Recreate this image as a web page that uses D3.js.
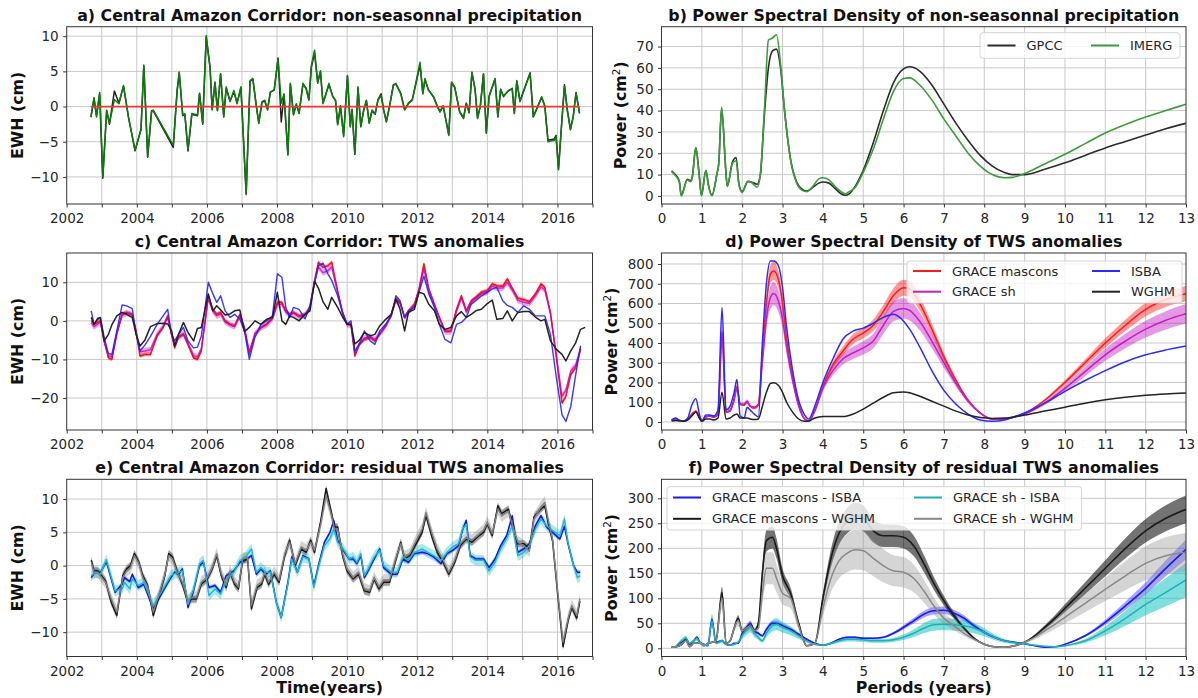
<!DOCTYPE html>
<html>
<head>
<meta charset="utf-8">
<script src="https://d3js.org/d3.v7.min.js"></script>
<style>
  body { margin: 0; background: #fff; }
  svg { font-family: "DejaVu Sans", sans-serif; }
  .tick text { font-family: "DejaVu Sans", sans-serif; font-size: 13.5px; fill: #262626; }
  .tick line { stroke: #333; }
  .title { font-size: 15.8px; font-weight: bold; fill: #111; }
  .axlabel { font-size: 15.8px; font-weight: bold; fill: #111; }
  .legend text { font-size: 13px; fill: #262626; }
</style>
</head>
<body>
<script>
// ---------- a) non-seasonal precipitation (cm) ----------
const precipT = [
  2002.69, 2002.78, 2002.85, 2002.94, 2003.03, 2003.14, 2003.22, 2003.36, 2003.49, 2003.62,
  2003.76, 2003.95, 2004.12, 2004.20, 2004.31, 2004.42, 2004.47, 2005.04, 2005.15, 2005.21,
  2005.31, 2005.37, 2005.46, 2005.57, 2005.73, 2005.79, 2005.88, 2005.98, 2006.09, 2006.15,
  2006.23, 2006.30, 2006.39, 2006.48, 2006.55, 2006.66, 2006.77, 2006.86, 2006.97, 2007.12,
  2007.23, 2007.31, 2007.41, 2007.48, 2007.57, 2007.65, 2007.73, 2007.81, 2007.92, 2008.03,
  2008.12, 2008.20, 2008.31, 2008.38, 2008.47, 2008.55, 2008.63, 2008.74, 2008.83, 2008.91,
  2008.98, 2009.07, 2009.16, 2009.24, 2009.31, 2009.40, 2009.48, 2009.59, 2009.67, 2009.73,
  2009.81, 2009.90, 2010.01, 2010.09, 2010.14, 2010.22, 2010.31, 2010.39, 2010.47, 2010.55,
  2010.63, 2010.71, 2010.80, 2010.88, 2010.97, 2011.04, 2011.12, 2011.21, 2011.32, 2011.39,
  2011.53, 2011.64, 2011.75, 2011.86, 2012.08, 2012.16, 2012.22, 2012.32, 2012.47, 2012.57,
  2012.65, 2012.74, 2012.90, 2012.98, 2013.07, 2013.21, 2013.32, 2013.40, 2013.48, 2013.56,
  2013.65, 2013.72, 2013.80, 2013.89, 2013.97, 2014.05, 2014.22, 2014.30, 2014.38, 2014.46,
  2014.60, 2014.71, 2014.77, 2014.84, 2014.93, 2015.22, 2015.31, 2015.40, 2015.55, 2015.64,
  2015.73, 2015.91, 2015.96, 2016.03, 2016.12, 2016.20, 2016.28, 2016.37, 2016.45, 2016.53,
  2016.63
];
const precipImerg = [
  -1.5, 1.3, -1.5, 2.0, -10.0, -0.5, -2.4, 1.0, 0.4, 3.0,
  -1.5, -6.2, -3.3, 5.9, -7.1, -0.8, -0.5, -5.5, 2.3, 4.9,
  -1.2, -1.0, -6.2, -1.0, -1.2, 1.8, -2.4, 10.1, 5.6, -0.5,
  3.5, -0.5, 4.7, -1.5, 2.8, 0.7, 2.3, 0.4, 2.8, -12.5,
  3.7, 4.0, 0.0, -2.4, 0.7, 0.9, -0.5, 2.1, 2.3, 6.8,
  0.5, 1.8, -6.9, 3.3, -1.2, 0.4, -1.0, 3.3, 2.5, 0.9,
  5.8, 8.0, 3.3, 5.1, 0.4, 1.8, 3.3, 1.4, 0.9, -2.6,
  0.0, -4.3, 4.4, -2.9, -0.5, -6.7, 2.8, -2.9, -0.5, 0.9,
  -2.4, -0.5, -1.0, 0.9, 1.6, -0.5, -2.2, 0.0, 3.0, 3.3,
  1.8, -0.5, 0.4, 0.9, 6.3, 1.8, 4.0, 2.3, 1.4, 0.0,
  -0.8, 0.05, -4.1, 3.5, 2.8, -0.8, -1.7, 0.4, -0.8, 4.9,
  2.5, -1.7, 0.0, 4.7, -3.8, 1.4, 4.0, -1.5, 2.5, 1.4,
  2.3, 2.5, -1.0, 3.7, 0.7, 4.7, -1.5, -0.5, 1.4, 0.0,
  -5.0, -4.8, -4.3, -9.0, -2.5, 2.9, -0.5, -3.3, -1.5, 1.9,
  -1.0
];
const precipGpcc = [
  -1.5, 1.1, -1.3, 1.8, -10.2, -0.6, -2.5, 2.2, 0.5, 2.9,
  -1.4, -6.3, -3.2, 5.8, -7.2, -0.6, -0.6, -5.8, 2.2, 4.8,
  -1.3, -1.1, -6.3, -1.1, -1.3, 1.9, -2.5, 9.9, 5.5, -0.4,
  3.4, -0.6, 4.6, -1.4, 2.6, 0.8, 2.1, 0.5, 2.7, -12.4,
  3.6, 3.9, 0.1, -2.3, 0.6, 0.8, -0.4, 2.0, 2.4, 6.9,
  -2.2, 1.7, -6.8, 3.2, -1.1, 0.3, -0.9, 3.2, 2.6, 1.0,
  5.6, 7.6, 3.5, 4.9, 0.5, 1.9, 3.1, 1.5, 0.8, -2.5,
  0.1, -4.1, 4.3, -2.8, -0.4, -6.8, 2.6, -2.8, -0.6, 0.8,
  -2.3, -0.6, -1.1, 1.0, 1.8, -0.4, -2.1, 0.1, 3.1, 3.2,
  1.9, -0.4, 0.5, 1.0, 5.9, 1.9, 3.8, 2.4, 1.3, 0.1,
  -0.7, 0.1, -4.0, 3.4, 2.7, -0.7, -1.6, 0.5, -0.9, 4.8,
  2.4, -1.6, 0.1, 4.6, -3.7, 1.5, 3.9, -1.4, 2.4, 1.5,
  2.2, 2.6, -0.9, 3.6, 0.8, 4.8, -1.4, -0.4, 1.3, 0.1,
  -4.8, -4.6, -4.1, -8.8, -2.4, 3.1, -0.4, -3.2, -1.4, 2.0,
  -0.9
];

// ---------- c) TWS anomalies (cm) ----------
const twsT = [
  2002.70, 2002.78, 2002.89, 2002.96, 2003.07, 2003.19, 2003.29, 2003.43, 2003.58, 2003.71,
  2003.87, 2003.98, 2004.09, 2004.23, 2004.39, 2004.58, 2004.75, 2004.88, 2004.99, 2005.08,
  2005.19, 2005.33, 2005.46, 2005.62, 2005.73, 2005.84, 2006.04, 2006.17, 2006.28, 2006.39,
  2006.52, 2006.66, 2006.79, 2006.94, 2007.07, 2007.21, 2007.37, 2007.54, 2007.70, 2007.87,
  2008.01, 2008.14, 2008.25, 2008.36, 2008.47, 2008.63, 2008.80, 2008.94, 2009.07, 2009.18,
  2009.31, 2009.45, 2009.56, 2009.73, 2009.87, 2010.00, 2010.11, 2010.22, 2010.35, 2010.49,
  2010.66, 2010.79, 2010.93, 2011.10, 2011.26, 2011.39, 2011.51, 2011.64, 2011.75, 2011.92,
  2012.05, 2012.19, 2012.33, 2012.49, 2012.63, 2012.79, 2012.96, 2013.12, 2013.26, 2013.40,
  2013.54, 2013.67, 2013.83, 2014.00, 2014.14, 2014.27, 2014.44, 2014.57, 2014.71, 2014.87,
  2015.04, 2015.20, 2015.37, 2015.53, 2015.64, 2015.80, 2015.97, 2016.13, 2016.24, 2016.38,
  2016.52, 2016.66, 2016.79
];
const twsMascons = [
  0.0, -0.9, -0.4, 0.0, -5.2, -9.6, -10.0, -3.5, 1.7, 2.2,
  1.7, -2.6, -9.1, -8.7, -8.7, -3.9, -1.7, 1.3, -3.5, -7.0,
  -4.3, -3.5, -6.1, -9.6, -10.0, -7.8, 6.5, 3.0, 1.7, 2.2,
  0.0, -0.9, -1.3, 1.7, -1.7, -8.7, -3.5, -1.7, -0.9, 0.9,
  4.8, 4.8, 2.6, 1.7, 2.2, 1.3, 1.7, 3.5, 10.4, 15.2,
  13.9, 14.3, 15.2, 7.8, 2.2, -0.9, -0.9, -9.1, -6.1, -4.8,
  -4.3, -5.2, -3.5, -1.3, 1.7, 5.7, 4.8, 0.9, 2.6, 4.3,
  8.3, 14.8, 8.3, 4.3, 0.9, -2.6, -2.6, 3.0, 6.5, 2.6,
  5.2, 6.1, 7.4, 7.8, 9.6, 9.1, 9.0, 10.9, 8.5, 5.9,
  5.5, 5.0, 7.0, 9.6, 8.7, 2.2, -9.6, -21.3, -19.6, -13.9,
  -12.2, -7.4, null
];
const twsSh = [
  -0.5, -1.5, -0.8, -0.3, -5.5, -9.0, -9.3, -3.0, 1.5, 2.0,
  1.5, -2.8, -8.0, -7.8, -7.5, -3.5, -1.5, 1.0, -3.3, -6.5,
  -4.0, -3.3, -5.8, -9.0, -9.3, -7.3, 5.8, 2.5, 1.3, 1.8,
  -0.3, -1.0, -1.5, 1.3, -2.0, -8.0, -3.3, -1.8, -1.0, 0.5,
  4.3, 4.3, 2.3, 1.5, 2.0, 1.0, 1.5, 3.3, 9.8, 14.0,
  12.5, 13.0, 14.0, 7.3, 2.0, -1.0, -1.0, -8.5, -5.8, -4.5,
  -4.0, -4.8, -3.3, -1.3, 1.5, 5.3, 4.5, 0.8, 2.3, 4.0,
  7.8, 13.5, 7.8, 4.0, 0.8, -2.8, -2.8, 2.5, 6.0, 2.3,
  4.8, 5.8, 7.0, 7.5, 9.0, 8.5, 8.5, 10.0, 8.0, 5.3,
  4.8, 4.5, 6.5, 8.8, 8.0, 1.8, -9.0, -19.5, -18.0, -13.0,
  -11.5, -7.0, null
];
const twsIsba = [
  2.6, -0.9, 0.4, 0.9, -4.3, -8.5, -8.7, -2.6, 4.1, 3.9,
  3.2, -3.5, -7.8, -6.3, -4.0, -0.9, 1.3, 3.0, -3.5, -5.2,
  -3.5, -1.7, -5.2, -7.0, -6.8, -4.0, 10.0, 7.0, 4.8, 6.5,
  2.6, 0.9, 1.7, 0.4, -2.6, -10.0, -4.3, -0.9, 0.0, 1.3,
  12.2, 11.3, 3.5, 0.9, 3.5, 3.0, 0.5, 4.0, 10.0, 14.3,
  15.0, 12.2, 10.5, 6.5, 2.0, -0.9, 0.0, -7.8, -6.1, -2.6,
  -5.2, -6.1, -2.6, -0.9, 1.3, 6.5, 5.2, 0.9, 2.6, 3.5,
  7.4, 11.6, 7.0, 3.5, -0.9, -4.8, -5.7, -0.9, -0.4, 0.9,
  4.3, 5.2, 6.5, 7.4, 8.3, 8.7, 5.2, 4.0, 3.5, 2.2,
  3.9, 3.0, 1.3, 1.3, 1.3, -3.5, -14.8, -24.3, -26.1, -22.2,
  -14.0, -6.5, null
];
const twsWghm = [
  0.9, -0.9, 0.7, 0.8, -5.2, -3.5, -1.0, 1.3, 2.2, 1.7,
  0.9, -3.5, -6.5, -5.0, -1.5, -0.7, -0.6, -0.8, -2.5, -6.5,
  -3.5, -0.4, -3.0, -5.2, -2.0, -1.7, 7.0, 2.6, 3.9, 2.9,
  1.5, 1.8, 2.6, 2.8, -2.8, -1.7, 0.0, -0.9, 0.4, 0.9,
  7.4, 0.0, -0.9, 1.3, 0.9, 0.0, 1.7, 2.6, 10.3, 8.5,
  5.0, 3.0, 6.1, 3.5, 1.0, -0.9, -0.9, -6.0, -5.0, -3.0,
  -3.9, -3.5, -1.3, 0.4, 1.7, 5.7, 3.0, -2.6, 2.2, 3.0,
  7.4, 7.0, 4.3, 2.6, -0.9, -2.2, -1.7, 1.3, 2.4, 0.9,
  1.7, 2.6, 3.0, 4.5, 5.4, 0.4, 0.6, 2.6, 0.0, 2.2,
  2.4, 2.4, 1.0, 0.0, 0.4, -5.2, -7.4, -8.7, -10.4, -7.8,
  -5.7, -2.2, -1.7
];
const twsMasconsErr = 0.5, twsShErr = 0.8;

// ---------- e) residual TWS anomalies (cm) ----------
const resIsbaT = [
  2002.70, 2002.83, 2002.96, 2003.13, 2003.38, 2003.58, 2003.65, 2003.80, 2003.87, 2004.04,
  2004.20, 2004.47, 2004.75, 2004.97, 2005.08, 2005.19, 2005.30, 2005.46, 2005.62, 2005.79,
  2005.90, 2006.06, 2006.23, 2006.39, 2006.55, 2006.77, 2006.94, 2007.10, 2007.27, 2007.41,
  2007.54, 2007.68, 2007.81, 2007.98, 2008.12, 2008.31, 2008.42, 2008.58, 2008.74, 2008.91,
  2009.05, 2009.18, 2009.35, 2009.51, 2009.62, 2009.73, 2009.89, 2010.06, 2010.17, 2010.28,
  2010.39, 2010.49, 2010.60, 2010.77, 2010.93, 2011.04, 2011.26, 2011.43, 2011.59, 2011.75,
  2011.92, 2012.14, 2012.30, 2012.47, 2012.68, 2012.85, 2013.01, 2013.18, 2013.29, 2013.40,
  2013.51, 2013.67, 2013.89, 2014.05, 2014.22, 2014.38, 2014.55, 2014.71, 2014.87, 2015.04,
  2015.20, 2015.37, 2015.53, 2015.69, 2015.86, 2016.07, 2016.20, 2016.30, 2016.46, 2016.57,
  2016.65
];
const resMasconsIsba = [
  -1.8, -0.8, -1.1, 0.6, -4.0, -2.8, -1.8, -2.4, -1.3, -3.3,
  -2.8, -6.5, -3.8, -1.8, -1.0, -1.3, -0.5, -6.3, -3.8, 0.0,
  0.5, -3.3, -3.0, -4.0, -1.5, -0.8, 0.5, 0.8, 1.5, -1.3,
  -0.5, -1.3, -0.8, -5.5, -7.8, -2.5, 1.3, -1.0, 1.5, 1.0,
  -3.0, 0.0, 3.5, 5.0, 6.8, 3.8, 2.3, 1.0, 1.0, 0.3,
  1.5, -1.8, -0.8, 1.0, 2.5, -0.3, -1.3, -1.3, 1.0, 0.5,
  1.8, 2.0, 1.8, 1.3, 0.3, 1.8, 2.3, 3.0, 5.3, 6.8,
  1.5, 1.0, 1.0, -0.3, 1.0, 3.0, 4.5, 7.5, 2.0, 2.5,
  3.3, 6.0, 7.5, 5.8, 5.0, 4.0, 5.9, 3.3, 0.0, -1.0,
  -1.0
];
const resShIsba = [
  -1.5, -1.0, -1.3, 0.9, -3.8, -3.5, -2.5, -3.5, -2.0, -3.0,
  -2.5, -6.0, -3.5, -1.5, -1.2, -1.0, -0.8, -5.8, -3.5, 0.3,
  0.8, -4.5, -3.5, -4.3, -2.0, -1.0, 0.8, 1.3, 2.5, -1.0,
  -0.3, -1.0, -1.0, -5.5, -7.8, -2.8, 1.0, -1.0, 1.3, 1.0,
  -3.3, -0.3, 3.0, 4.0, 5.5, 3.5, 2.5, 1.0, 1.3, 0.5,
  1.8, -1.5, -0.5, 1.3, 2.3, 0.0, -1.0, -1.0, 1.3, 0.8,
  2.0, 2.5, 2.0, 1.5, 0.8, 2.0, 2.8, 3.3, 5.5, 6.2,
  1.3, 0.8, 0.8, -0.8, 0.5, 2.5, 4.0, 6.0, 1.5, 2.0,
  3.0, 5.5, 7.0, 6.0, 5.3, 4.5, 7.0, 3.5, 0.0, -1.8,
  -1.5
];
const resWghmT = [
  2002.70, 2002.78, 2002.89, 2002.96, 2003.11, 2003.27, 2003.43, 2003.60, 2003.71, 2003.82,
  2003.93, 2004.06, 2004.17, 2004.31, 2004.47, 2004.64, 2004.80, 2004.91, 2005.02, 2005.15,
  2005.30, 2005.46, 2005.57, 2005.70, 2005.84, 2006.01, 2006.15, 2006.28, 2006.41, 2006.55,
  2006.66, 2006.79, 2006.90, 2007.02, 2007.16, 2007.27, 2007.43, 2007.56, 2007.65, 2007.76,
  2007.92, 2008.06, 2008.22, 2008.36, 2008.52, 2008.69, 2008.83, 2008.96, 2009.07, 2009.24,
  2009.40, 2009.53, 2009.64, 2009.73, 2009.87, 2010.00, 2010.17, 2010.33, 2010.49, 2010.64,
  2010.77, 2010.91, 2011.04, 2011.21, 2011.37, 2011.53, 2011.64, 2011.79, 2011.97, 2012.14,
  2012.25, 2012.41, 2012.57, 2012.74, 2012.90, 2013.07, 2013.23, 2013.40, 2013.56, 2013.72,
  2013.89, 2014.00, 2014.14, 2014.30, 2014.41, 2014.60, 2014.71, 2014.87, 2015.04, 2015.20,
  2015.33, 2015.53, 2015.64, 2015.75, 2015.86, 2016.00, 2016.16, 2016.31, 2016.41, 2016.55,
  2016.64
];
const resMasconsWghm = [
  0.8, -0.8, -0.8, -1.3, -2.3, -5.5, -7.5, -1.5, -0.5, 0.0,
  1.8, 0.5, -1.5, -3.0, -7.5, -4.5, -1.5, 1.8, 1.3, -0.8,
  -2.8, -5.5, -5.0, -5.0, -2.8, -2.0, -0.5, 1.5, -1.5, -3.3,
  -1.0, -2.8, -3.5, 0.8, 1.0, -6.5, -3.3, -2.8, -1.3, -2.8,
  -1.3, -2.5, 1.5, 3.8, 0.0, 2.5, 2.0, 3.8, 2.0, 6.5,
  11.6, 8.5, 5.8, 5.8, 1.5, -0.8, -2.0, -1.3, -3.8, -4.0,
  -2.0, -3.5, -2.5, -2.5, 0.5, 3.5, 1.0, 1.5, 3.3, 5.0,
  7.5, 4.5, 2.0, 0.5, -1.3, 0.5, 3.0, 4.0, 3.5, 4.3,
  5.0, 6.3, 4.5, 9.0, 7.8, 8.5, 6.0, 3.3, 3.3, 2.5,
  7.3, 8.5, 9.0, 6.0, 3.8, -4.0, -12.2, -8.1, -6.3, -7.9,
  -5.3
];
const resShWghm = [
  0.5, -1.0, -1.0, -1.5, -2.5, -5.0, -7.0, -1.8, -0.8, -0.3,
  1.5, 0.3, -1.8, -3.2, -7.0, -4.2, -1.3, 1.5, 1.0, -1.0,
  -2.5, -5.2, -4.8, -4.8, -2.5, -1.8, -0.3, 1.8, -1.2, -3.0,
  -0.8, -2.5, -3.2, 1.0, 1.2, -6.0, -3.0, -2.5, -1.0, -2.5,
  -1.0, -2.2, 1.8, 3.5, 0.3, 2.8, 2.3, 3.5, 2.3, 6.0,
  10.5, 8.0, 5.5, 5.5, 1.8, -0.5, -1.8, -1.0, -3.5, -3.8,
  -1.8, -3.2, -2.2, -2.2, 0.8, 3.3, 1.3, 1.8, 3.8, 5.5,
  8.0, 5.0, 2.5, 0.8, -1.0, 0.8, 3.3, 4.2, 3.8, 4.5,
  5.3, 6.5, 4.8, 8.5, 7.5, 8.2, 6.2, 3.5, 3.0, 2.2,
  7.0, 8.8, 9.5, 6.5, 4.0, -3.5, -11.5, -7.8, -6.0, -7.5,
  -5.0
];
const resErr = { masconsIsba: 0.3, shIsba: 0.8, masconsWghm: 0.5, shWghm: 0.9 };

// ---------- b) PSD of precipitation (cm^2) ----------
const psdPrecipP = [
  0.25, 0.35, 0.44, 0.49, 0.64, 0.72, 0.76, 0.85, 0.93, 0.99,
  1.1, 1.16, 1.25, 1.37, 1.42, 1.49, 1.59, 1.63, 1.76, 1.85,
  1.92, 2.0, 2.14, 2.23, 2.37, 2.45, 2.55, 2.65, 2.75, 2.85,
  2.95, 3.05, 3.2, 3.35, 3.5, 3.6, 3.75, 3.9, 4.0, 4.15,
  4.3, 4.45, 4.55, 4.65, 4.8, 5.0, 5.25, 5.5, 5.75, 6.0,
  6.15, 6.4, 6.7, 7.0, 7.3, 7.6, 7.9, 8.2, 8.5, 8.7,
  9.0, 9.5, 10.0, 10.5, 11.0, 11.5, 12.0, 12.5, 13.0
];
const psdGpcc = [
  11.8, 9.8, 7.0, 0.3, 7.8, 7.2, 8.5, 22.5, 10.8, 0.3,
  12.0, 5.5, 0.3, 10, 15.5, 41.0, 13, 4.6, 16, 18,
  5.5, 2.0, 6.8, 6.5, 5.5, 10, 38, 60, 68, 68.8,
  60, 40, 17, 6.5, 3, 2.3, 4.0, 6.0, 6.5, 6.0,
  3.5, 1.0, 0.3, 1.0, 4.5, 12, 25, 40, 53, 59.5,
  60.5, 58.5, 52, 43, 34, 26, 19, 14, 11, 10,
  10, 12.5, 15.5, 19, 22.5, 25.5, 28.5, 31.5, 34
];
const psdImerg = [
  11.4, 9.4, 6.7, 0, 7.5, 6.7, 8.3, 22.7, 10.6, 0,
  11.9, 5.2, 0, 9.8, 15.3, 41.6, 13, 4.4, 15.3, 16.5,
  5.2, 1.6, 6.7, 6.3, 4.1, 10, 40, 73, 74, 75.5,
  62, 40, 17, 6, 2.5, 2.0, 4.5, 8.0, 8.5, 7.5,
  4.5, 2.0, 1.0, 2.0, 4.0, 11, 22, 36, 49, 55,
  55.3, 52, 45, 36, 28, 20, 14, 10, 8.5, 8.7,
  10.5, 15, 19.5, 24.5, 29.5, 33.5, 37, 40, 43
];

// ---------- d) PSD of TWS anomalies (cm^2) ----------
const psdTwsP = [
  0.25, 0.35, 0.45, 0.55, 0.65, 0.75, 0.85, 0.95, 1.0, 1.1,
  1.2, 1.3, 1.4, 1.5, 1.6, 1.7, 1.8, 1.87, 1.95, 2.05,
  2.12, 2.2, 2.3, 2.4, 2.5, 2.6, 2.7, 2.78, 2.9, 3.0,
  3.1, 3.25, 3.4, 3.55, 3.65, 3.8, 4.0, 4.25, 4.5, 4.75,
  5.0, 5.25, 5.5, 5.75, 6.0, 6.15, 6.4, 6.7, 7.0, 7.3,
  7.6, 7.9, 8.2, 8.5, 8.8, 9.0, 9.5, 10.0, 10.5, 11.0,
  11.5, 12.0, 12.5, 13.0
];
const psdTwsMascons = [
  10, 15, 8, 5, 15, 40, 55, 20, 5, 25,
  30, 25, 40, 430, 50, 60, 120, 180, 90, 85,
  100, 80, 75, 90, 350, 600, 750, 765, 720, 600,
  420, 230, 90, 15, 5, 60, 180, 290, 360, 420,
  450, 490, 560, 640, 680, 675, 600, 470, 330, 210,
  110, 45, 15, 15, 30, 45, 110, 200, 300, 400,
  490, 570, 620, 650
];
const psdTwsSh = [
  10, 15, 8, 5, 12, 35, 50, 20, 5, 25,
  30, 25, 40, 460, 50, 55, 110, 170, 90, 90,
  105, 80, 70, 85, 300, 520, 630, 650, 610, 520,
  380, 210, 80, 15, 5, 55, 170, 260, 320, 350,
  375, 410, 490, 560, 575, 565, 510, 410, 300, 195,
  105, 45, 15, 15, 28, 40, 95, 170, 255, 340,
  410, 470, 515, 548
];
const psdTwsIsba = [
  10, 20, 8, 5, 20, 85, 118, 30, 5, 35,
  35, 30, 60, 580, 60, 80, 150, 215, 30, 20,
  75, 60, 40, 25, 400, 700, 815, 815, 790, 680,
  480, 260, 110, 35, 15, 80, 200, 320, 420, 460,
  475, 500, 530, 545, 510, 470, 380, 260, 160, 90,
  40, 10, 3, 10, 30, 45, 95, 155, 210, 260,
  305, 340, 365, 385
];
const psdTwsWghm = [
  5, 8, 5, 3, 10, 30, 50, 15, 3, 15,
  15, 10, 20, 150, 15, 20, 35, 40, 20, 20,
  20, 15, 12, 15, 80, 150, 195, 198, 185, 150,
  100, 50, 15, 3, 5, 20, 28, 28, 27, 40,
  65, 95, 125, 148, 152, 148, 130, 105, 80, 55,
  35, 22, 18, 20, 28, 35, 55, 75, 95, 112,
  125, 135, 142, 147
];
const psdTwsRelErr = { mascons: 0.06, sh: 0.09 };

// ---------- f) PSD of residual TWS anomalies (cm^2) ----------
const psdResP = [
  0.25, 0.35, 0.45, 0.55, 0.6, 0.7, 0.8, 0.88, 0.95, 1.05,
  1.15, 1.25, 1.35, 1.5, 1.6, 1.7, 1.8, 1.9, 2.0, 2.1,
  2.2, 2.3, 2.4, 2.5, 2.6, 2.75, 2.85, 3.0, 3.2, 3.4,
  3.6, 3.8, 4.0, 4.2, 4.4, 4.6, 4.8, 5.0, 5.25, 5.5,
  5.75, 6.0, 6.25, 6.5, 6.75, 7.0, 7.25, 7.5, 7.75, 8.0,
  8.25, 8.5, 8.75, 9.0, 9.25, 9.5, 9.75, 10.0, 10.5, 11.0,
  11.5, 12.0, 12.5, 13.0
];
const psdResMasconsIsba = [
  2, 3, 10, 15, 20, 8, 15, 22, 12, 8,
  5, 58, 12, 15, 8, 6, 10, 10, 30, 40,
  50, 35, 30, 25, 38, 50, 50, 45, 38, 28,
  18, 10, 6, 10, 18, 22, 22, 20, 20, 22,
  30, 42, 55, 68, 75, 76, 70, 60, 45, 32,
  22, 15, 12, 9, 5, 2, 3, 8, 25, 52,
  85, 120, 160, 198
];
const psdResMasconsWghm = [
  2, 3, 5, 12, 18, 3, 10, 10, 12, 5,
  10, 12, 15, 112, 10, 15, 40, 60, 35, 40,
  45, 35, 50, 150, 215, 222, 200, 145, 110, 50,
  5, 10, 100, 180, 230, 255, 265, 260, 235, 225,
  225, 222, 205, 170, 130, 95, 65, 40, 20, 8,
  3, 2, 5, 12, 25, 42, 60, 80, 120, 160,
  200, 235, 260, 278
];
const psdResShIsba = [
  2, 4, 12, 18, 20, 10, 15, 20, 10, 8,
  5, 55, 10, 15, 8, 6, 8, 12, 25, 35,
  42, 30, 22, 15, 30, 45, 48, 42, 35, 25,
  15, 8, 6, 10, 15, 18, 18, 17, 15, 15,
  17, 22, 30, 40, 47, 48, 47, 45, 40, 32,
  22, 15, 11, 9, 6, 4, 3, 5, 15, 35,
  60, 88, 112, 137
];
const psdResShWghm = [
  2, 3, 5, 12, 15, 3, 10, 10, 12, 5,
  10, 12, 15, 100, 10, 15, 40, 55, 35, 40,
  45, 35, 40, 110, 160, 160, 140, 110, 100, 45,
  5, 10, 80, 140, 175, 190, 197, 195, 180, 165,
  155, 152, 140, 115, 85, 60, 45, 30, 18, 8,
  3, 2, 5, 12, 22, 35, 48, 62, 90, 118,
  145, 170, 185, 192
];
const psdResRelErr = { masconsIsba: 0.1, shIsba: 0.25, masconsWghm: 0.1, shWghm: 0.2 };

// ---------- layout ----------
const svg = d3.select("body").append("svg").attr("width", 1198).attr("height", 698);
const defs = svg.append("defs");

const cols = [{ x: 66.7, w: 525.8 }, { x: 661.5, w: 524.5 }];
const rows = [{ y: 26.7, h: 177.3 }, { y: 253, h: 177 }, { y: 479.3, h: 177.2 }];
const yearTicks = d3.range(2002, 2018);
const periodTicks = d3.range(0, 14);

function makePanel(id, ci, ri, xDomain, yDomain) {
  const box = { x: cols[ci].x, w: cols[ci].w, y: rows[ri].y, h: rows[ri].h };
  const x = d3.scaleLinear().domain(xDomain).range([box.x, box.x + box.w]);
  const y = d3.scaleLinear().domain(yDomain).range([box.y + box.h, box.y]);
  defs.append("clipPath").attr("id", "clip-" + id).append("rect")
    .attr("x", box.x).attr("y", box.y).attr("width", box.w).attr("height", box.h);
  const g = svg.append("g");
  const grid = g.append("g");
  const plot = g.append("g").attr("clip-path", `url(#clip-${id})`);
  return { x, y, g, grid, plot, box };
}

function drawAxes(p, xTicks, xFormat, yTicks, title, ylabel, ylabelX) {
  const { x, y, g, grid, box } = p;
  const [x0, x1] = x.domain();
  grid.selectAll(".gx").data(xTicks.filter(d => d > x0 && d < x1)).join("line")
    .attr("x1", d => x(d)).attr("x2", d => x(d))
    .attr("y1", box.y).attr("y2", box.y + box.h)
    .attr("stroke", "#c8c8c8").attr("stroke-width", 1);
  grid.selectAll(".gy").data(yTicks).join("line")
    .attr("x1", box.x).attr("x2", box.x + box.w)
    .attr("y1", d => y(d)).attr("y2", d => y(d))
    .attr("stroke", "#c8c8c8").attr("stroke-width", 1);

  g.append("g").attr("transform", `translate(0,${box.y + box.h})`)
    .call(d3.axisBottom(x).tickValues(xTicks).tickFormat(xFormat).tickSize(3.5).tickPadding(6))
    .call(a => a.select(".domain").remove());
  g.append("g").attr("transform", `translate(${box.x},0)`)
    .call(d3.axisLeft(y).tickValues(yTicks).tickSize(3.5).tickPadding(4.5))
    .call(a => a.select(".domain").remove());

  g.append("rect").attr("x", box.x).attr("y", box.y).attr("width", box.w).attr("height", box.h)
    .attr("fill", "none").attr("stroke", "#333").attr("stroke-width", 1);

  g.append("text").attr("class", "title")
    .attr("x", box.x + box.w / 2).attr("y", box.y - 6)
    .attr("text-anchor", "middle").text(title);

  const yl = g.append("text").attr("class", "axlabel")
    .attr("transform", `translate(${ylabelX},${box.y + box.h / 2}) rotate(-90)`)
    .attr("text-anchor", "middle").attr("dy", "0.35em");
  if (ylabel === "power") {
    yl.append("tspan").text("Power (cm");
    yl.append("tspan").text("2").attr("font-size", 10.5).attr("font-weight", "normal").attr("dy", -6);
    yl.append("tspan").text(")").attr("dy", 6);
  } else {
    yl.text(ylabel);
  }
}

function pairs(xs, ys) { return xs.map((t, i) => [t, ys[i]]); }

function drawLine(p, xs, ys, color, width, curve, opacity) {
  p.plot.append("path").datum(pairs(xs, ys))
    .attr("d", d3.line().defined(d => d[1] != null)
      .x(d => p.x(d[0])).y(d => p.y(d[1])).curve(curve || d3.curveLinear))
    .attr("fill", "none").attr("stroke", color).attr("stroke-width", width)
    .attr("stroke-opacity", opacity == null ? 1 : opacity)
    .attr("stroke-linejoin", "round");
}

function drawBand(p, xs, ys, lo, hi, color, curve) {
  p.plot.append("path").datum(pairs(xs, ys).filter(d => d[1] != null))
    .attr("d", d3.area().x(d => p.x(d[0]))
      .y0(d => p.y(lo(d[1]))).y1(d => p.y(hi(d[1]))).curve(curve || d3.curveLinear))
    .attr("fill", color).attr("stroke", "none");
}

function legend(box, items) {
  const g = svg.append("g").attr("class", "legend");
  g.append("rect").attr("x", box.x).attr("y", box.y).attr("width", box.w).attr("height", box.h)
    .attr("rx", 3).attr("fill", "#fff").attr("fill-opacity", 0.8)
    .attr("stroke", "#d4d4d4").attr("stroke-width", 1);
  items.forEach(it => {
    g.append("line").attr("x1", it.x).attr("x2", it.x + 28).attr("y1", it.y).attr("y2", it.y)
      .attr("stroke", it.color).attr("stroke-width", 2);
    g.append("text").attr("x", it.x + 39).attr("y", it.y).attr("dy", "0.35em").text(it.label);
  });
}

const evenYear = d => (d % 2 === 0 ? d : "");
const mono = d3.curveMonotoneX;

// ---------- a ----------
const pa = makePanel("a", 0, 0, [2002, 2017], [-13.85, 11.35]);
drawAxes(pa, yearTicks, evenYear, [-10, -5, 0, 5, 10],
  "a) Central Amazon Corridor: non-seasonnal precipitation", "EWH (cm)", 17.5);
drawLine(pa, precipT, precipGpcc, "#222", 1.5);
drawLine(pa, precipT, precipImerg, "#0e7a0e", 1.5);
drawLine(pa, d3.extent(precipT), [0, 0], "#f03333", 1.8);

// ---------- b ----------
const pb = makePanel("b", 1, 0, [0, 13], [-3.78, 79.3]);
drawAxes(pb, periodTicks, d => d, d3.range(0, 80, 10),
  "b) Power Spectral Density of non-seasonnal precipitation", "power", 620);
drawLine(pb, psdPrecipP, psdGpcc, "#2b2b2b", 1.6, mono);
drawLine(pb, psdPrecipP, psdImerg, "#3c9c3c", 1.6, mono);
legend({ x: 980, y: 32.7, w: 200, h: 25.6 }, [
  { label: "GPCC", color: "#2b2b2b", x: 987.5, y: 45.5 },
  { label: "IMERG", color: "#3c9c3c", x: 1091, y: 45.5 }
]);

// ---------- c ----------
const pc = makePanel("c", 0, 1, [2002, 2017], [-28.3, 17.6]);
drawAxes(pc, yearTicks, evenYear, [-20, -10, 0, 10],
  "c) Central Amazon Corridor: TWS anomalies", "EWH (cm)", 17.5);
drawBand(pc, twsT, twsMascons, v => v - twsMasconsErr, v => v + twsMasconsErr, "rgba(255,0,0,0.35)");
drawBand(pc, twsT, twsSh, v => v - twsShErr, v => v + twsShErr, "rgba(190,0,190,0.35)");
drawLine(pc, twsT, twsMascons, "#ff1010", 1.5);
drawLine(pc, twsT, twsSh, "#c000c0", 1.4, null, 0.75);
drawLine(pc, twsT, twsIsba, "#2222ff", 1.4, null, 0.9);
drawLine(pc, twsT, twsWghm, "#222", 1.5);

// ---------- d ----------
const pd = makePanel("d", 1, 1, [0, 13], [-40.75, 855.75]);
drawAxes(pd, periodTicks, d => d, d3.range(0, 900, 100),
  "d) Power Spectral Density of TWS anomalies", "power", 611.7);
drawBand(pd, psdTwsP, psdTwsMascons, v => v * (1 - psdTwsRelErr.mascons), v => v * (1 + psdTwsRelErr.mascons), "rgba(255,0,0,0.4)", mono);
drawBand(pd, psdTwsP, psdTwsSh, v => v * (1 - psdTwsRelErr.sh), v => v * (1 + psdTwsRelErr.sh), "rgba(190,0,190,0.4)", mono);
drawLine(pd, psdTwsP, psdTwsMascons, "#ff1a1a", 1.5, mono);
drawLine(pd, psdTwsP, psdTwsSh, "#c020c0", 1.5, mono);
drawLine(pd, psdTwsP, psdTwsIsba, "#2a2aff", 1.5, mono);
drawLine(pd, psdTwsP, psdTwsWghm, "#222", 1.5, mono);
legend({ x: 907, y: 261, w: 275, h: 42 }, [
  { label: "GRACE mascons", color: "#ff1a1a", x: 913, y: 271 },
  { label: "GRACE sh", color: "#c020c0", x: 913, y: 291.7 },
  { label: "ISBA", color: "#2a2aff", x: 1092, y: 271 },
  { label: "WGHM", color: "#222", x: 1092, y: 291.7 }
]);

// ---------- e ----------
const pe = makePanel("e", 0, 2, [2002, 2017], [-13.66, 12.97]);
drawAxes(pe, yearTicks, evenYear, [-10, -5, 0, 5, 10],
  "e) Central Amazon Corridor: residual TWS anomalies", "EWH (cm)", 17.5);
drawBand(pe, resIsbaT, resMasconsIsba, v => v - resErr.masconsIsba, v => v + resErr.masconsIsba, "rgba(0,0,255,0.3)");
drawBand(pe, resWghmT, resMasconsWghm, v => v - resErr.masconsWghm, v => v + resErr.masconsWghm, "rgba(0,0,0,0.35)");
drawBand(pe, resIsbaT, resShIsba, v => v - resErr.shIsba, v => v + resErr.shIsba, "rgba(0,190,200,0.35)");
drawBand(pe, resWghmT, resShWghm, v => v - resErr.shWghm, v => v + resErr.shWghm, "rgba(128,128,128,0.35)");
drawLine(pe, resIsbaT, resMasconsIsba, "#1515e0", 1.5);
drawLine(pe, resWghmT, resMasconsWghm, "#1a1a1a", 1.5);
drawLine(pe, resIsbaT, resShIsba, "#1fb8c8", 1.4);
drawLine(pe, resWghmT, resShWghm, "#808080", 1.4);
svg.append("text").attr("class", "axlabel")
  .attr("x", pe.box.x + pe.box.w / 2).attr("y", 687).attr("dy", "0.35em")
  .attr("text-anchor", "middle").text("Time(years)");

// ---------- f ----------
const pf = makePanel("f", 1, 2, [0, 13], [-16.4, 338]);
drawAxes(pf, periodTicks, d => d, d3.range(0, 350, 50),
  "f) Power Spectral Density of residual TWS anomalies", "power", 611.7);
drawBand(pf, psdResP, psdResMasconsIsba, v => v * (1 - psdResRelErr.masconsIsba), v => v * (1 + psdResRelErr.masconsIsba), "rgba(0,0,255,0.35)", mono);
drawBand(pf, psdResP, psdResMasconsWghm, v => v * (1 - psdResRelErr.masconsWghm), v => v * (1 + psdResRelErr.masconsWghm), "rgba(0,0,0,0.55)", mono);
drawBand(pf, psdResP, psdResShIsba, v => v * (1 - psdResRelErr.shIsba), v => v * (1 + psdResRelErr.shIsba), "rgba(0,190,190,0.5)", mono);
drawBand(pf, psdResP, psdResShWghm, v => v * (1 - psdResRelErr.shWghm), v => v * (1 + psdResRelErr.shWghm), "rgba(150,150,150,0.4)", mono);
drawLine(pf, psdResP, psdResMasconsIsba, "#1a1aee", 1.6, mono);
drawLine(pf, psdResP, psdResMasconsWghm, "#1a1a1a", 1.6, mono);
drawLine(pf, psdResP, psdResShIsba, "#20b0b0", 1.5, mono);
drawLine(pf, psdResP, psdResShWghm, "#888", 1.5, mono);
legend({ x: 667, y: 486.7, w: 414.7, h: 43.3 }, [
  { label: "GRACE mascons - ISBA", color: "#1a1aee", x: 673, y: 497.5 },
  { label: "GRACE mascons - WGHM", color: "#1a1a1a", x: 673, y: 518.8 },
  { label: "GRACE sh - ISBA", color: "#20b0b0", x: 914, y: 497.5 },
  { label: "GRACE sh - WGHM", color: "#888", x: 914, y: 518.8 }
]);
svg.append("text").attr("class", "axlabel")
  .attr("x", pf.box.x + pf.box.w / 2).attr("y", 687).attr("dy", "0.35em")
  .attr("text-anchor", "middle").text("Periods (years)");
</script>
</body>
</html>
